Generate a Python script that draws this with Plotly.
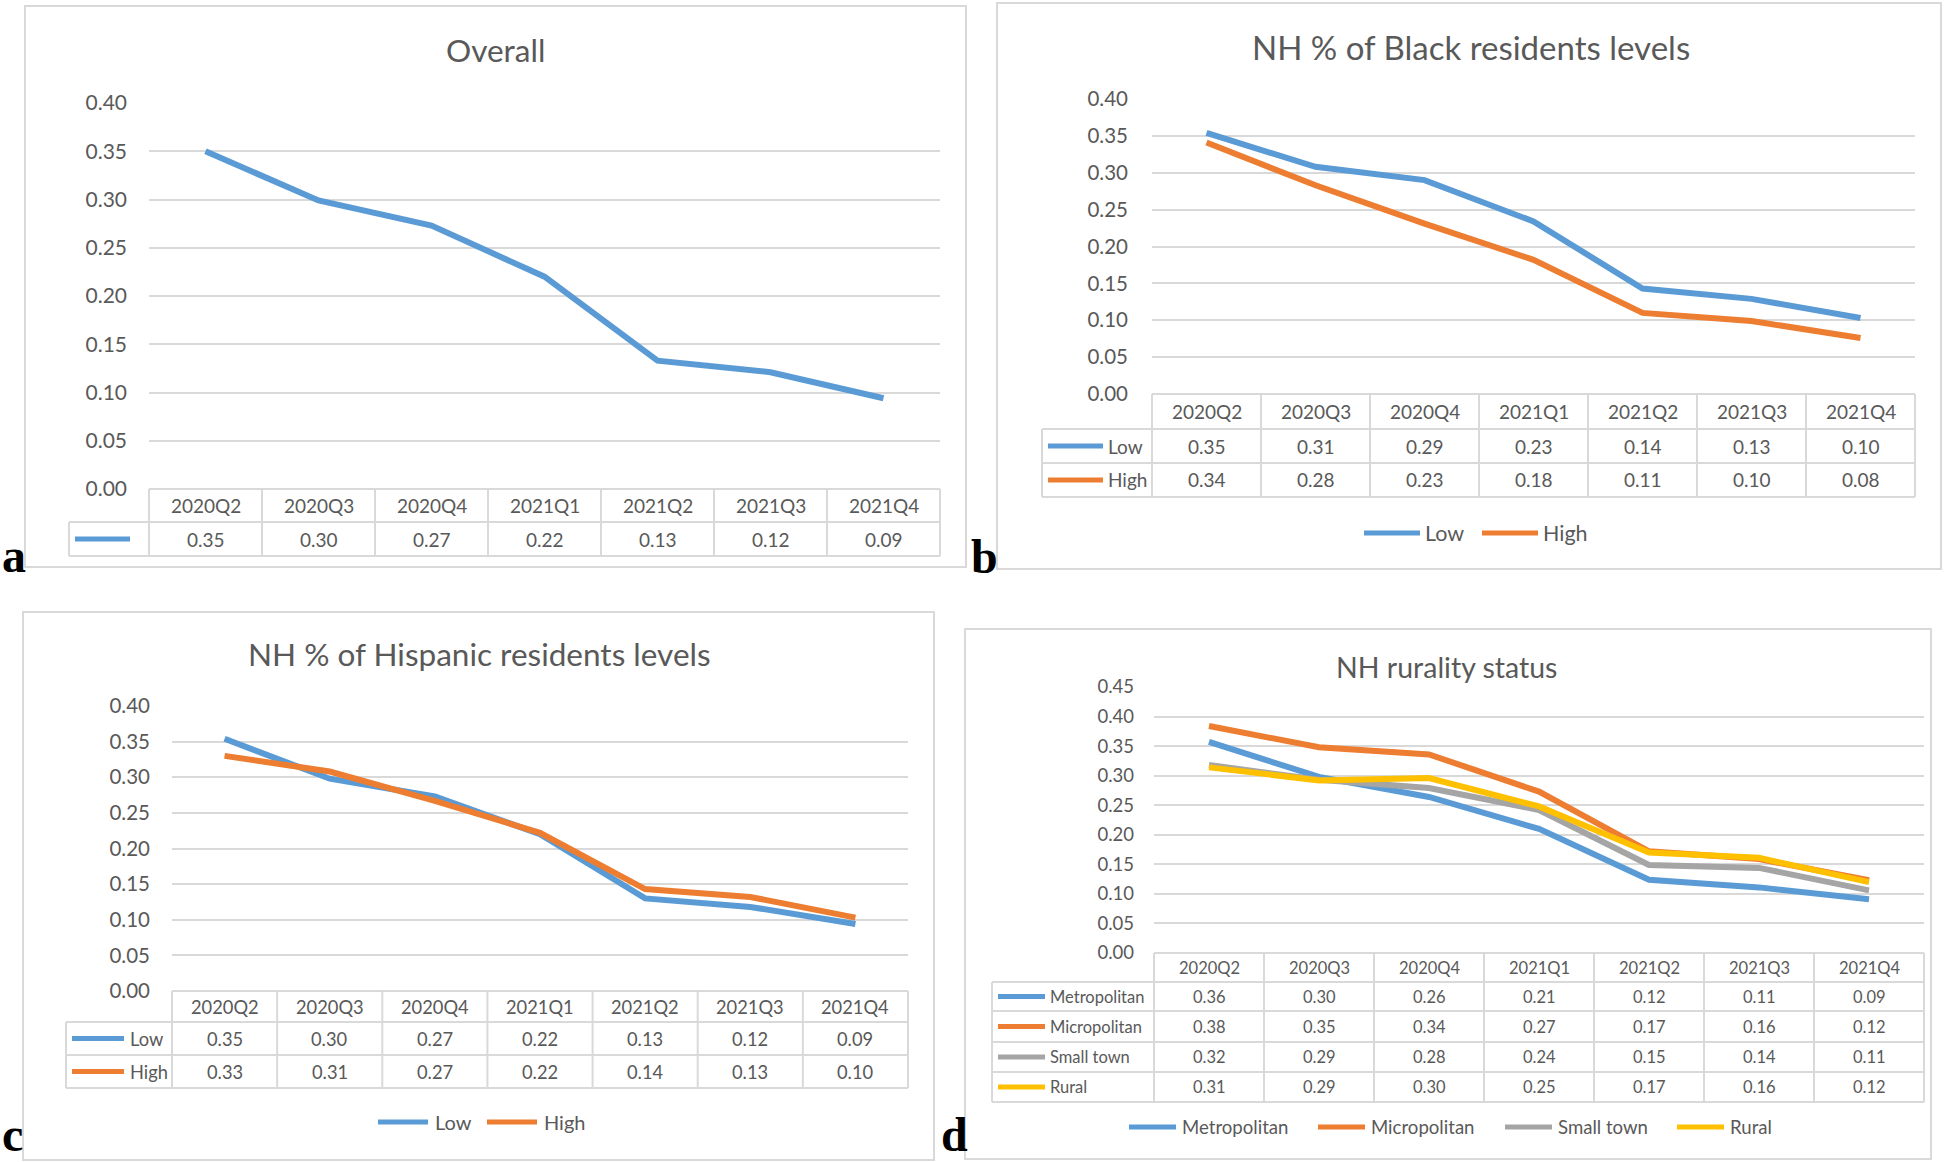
import plotly.graph_objects as go

# ---------------- data ----------------
quarters = ["2020Q2", "2020Q3", "2020Q4", "2021Q1", "2021Q2", "2021Q3", "2021Q4"]

overall = [0.350, 0.299, 0.273, 0.220, 0.133, 0.121, 0.094]

black_low = [0.354, 0.308, 0.290, 0.234, 0.143, 0.129, 0.103]
black_high = [0.341, 0.283, 0.231, 0.182, 0.110, 0.099, 0.076]

hisp_low = [0.354, 0.298, 0.273, 0.220, 0.130, 0.118, 0.094]
hisp_high = [0.330, 0.308, 0.267, 0.222, 0.143, 0.132, 0.103]

metropolitan = [0.357, 0.298, 0.264, 0.210, 0.124, 0.111, 0.091]
micropolitan = [0.384, 0.348, 0.336, 0.273, 0.172, 0.159, 0.123]
small_town = [0.318, 0.293, 0.279, 0.242, 0.149, 0.144, 0.106]
rural = [0.314, 0.292, 0.296, 0.248, 0.170, 0.161, 0.120]

titles = ["Overall", "NH % of Black residents levels",
          "NH % of Hispanic residents levels", "NH rurality status"]
panel_letters = ["a", "b", "c", "d"]

# ---------------- style ----------------
W, H = 1945, 1162
BLUE, ORANGE, GRAY, GOLD = "#5B9BD5", "#ED7D31", "#A5A5A5", "#FFC000"
TXT = "#595959"
GRID = "#D9D9D9"
FONT = "Lato"


def X(px):
    return px / W


def Y(py):
    return 1 - py / H


panels = [
    dict(series=[("", overall, BLUE)], ymax=0.40,
         box=(25, 6, 966, 567), plot=(149, 940), y0=489, ytop=103,
         rows=[522, 556], legcol=69, sample=(75, 130), textx=None,
         title=(495, 50, 31.5), tick=(21, 21), table=19,
         legend=None, letter=(0, 555)),
    dict(series=[("Low", black_low, BLUE), ("High", black_high, ORANGE)], ymax=0.40,
         box=(997, 3, 1941, 569), plot=(1152, 1915), y0=394, ytop=99,
         rows=[429, 463, 497], legcol=1042, sample=(1048, 1103), textx=1106,
         title=(1471, 47, 33), tick=(20.5, 23), table=19,
         legend=dict(y=533, xs=[1364, 1482], length=56, gap=3, size=21.5),
         letter=(969, 556)),
    dict(series=[("Low", hisp_low, BLUE), ("High", hisp_high, ORANGE)], ymax=0.40,
         box=(23, 612, 934, 1160), plot=(172, 908), y0=991, ytop=706,
         rows=[1022, 1055, 1088], legcol=66, sample=(72, 124), textx=128,
         title=(479, 654, 31.5), tick=(20.5, 21), table=18.3,
         legend=dict(y=1122, xs=[378, 487], length=50, gap=5, size=20),
         letter=(0, 1134)),
    dict(series=[("Metropolitan", metropolitan, BLUE), ("Micropolitan", micropolitan, ORANGE),
                 ("Small town", small_town, GRAY), ("Rural", rural, GOLD)], ymax=0.45,
         box=(965, 629, 1931, 1159), plot=(1154, 1924), y0=953, ytop=687,
         rows=[982, 1011, 1042, 1072, 1102], legcol=992, sample=(998, 1045), textx=1048,
         title=(1446, 667, 28.5), tick=(18.5, 19), table=16.5,
         legend=dict(y=1127, xs=[1129, 1318, 1505, 1677], length=47, gap=4, size=18.6),
         letter=(939, 1134)),
]

fig = go.Figure()
shapes = []
annotations = []
layout_axes = {}

for i, p in enumerate(panels, start=1):
    xa = "x" if i == 1 else f"x{i}"
    ya = "y" if i == 1 else f"y{i}"
    xkey = "xaxis" if i == 1 else f"xaxis{i}"
    ykey = "yaxis" if i == 1 else f"yaxis{i}"
    left, right = p["plot"]
    y0, ytop = p["y0"], p["ytop"]

    # panel border
    bx0, by0, bx1, by1 = p["box"]
    shapes.append(dict(type="rect", xref="paper", yref="paper",
                       x0=X(bx0), x1=X(bx1), y0=Y(by1), y1=Y(by0),
                       line=dict(color=GRID, width=2), fillcolor="rgba(0,0,0,0)",
                       layer="below"))

    for name, vals, color in p["series"]:
        fig.add_trace(go.Scatter(x=quarters, y=vals, mode="lines", name=name,
                                 line=dict(color=color, width=6),
                                 xaxis=xa, yaxis=ya, showlegend=False,
                                 hoverinfo="x+y"))

    layout_axes[xkey] = dict(domain=[X(left), X(right)], range=[-0.5, 6.5],
                             type="category", categoryorder="array", categoryarray=quarters,
                             showgrid=False, showticklabels=False, zeroline=False,
                             showline=False, ticks="", anchor=ya, fixedrange=True,
                             automargin=False)
    layout_axes[ykey] = dict(domain=[Y(y0), Y(ytop)], range=[0, p["ymax"]],
                             tick0=0, dtick=0.05, tickformat=".2f",
                             showgrid=True, gridcolor=GRID, gridwidth=2,
                             zeroline=False, showline=False, ticks="",
                             tickfont=dict(family=FONT, size=p["tick"][0], color=TXT),
                             ticklabelstandoff=p["tick"][1], anchor=xa, fixedrange=True,
                             automargin=False)

    # title
    tx, ty, ts = p["title"]
    annotations.append(dict(text=titles[i - 1], x=X(tx), y=Y(ty), xref="paper", yref="paper",
                            xanchor="center", yanchor="middle", showarrow=False,
                            font=dict(family=FONT, size=ts, color=TXT)))

    # ---- data table ----
    rows = p["rows"]
    bottom = rows[-1]
    shapes.append(dict(type="line", xref=f"{xa} domain", yref="paper",
                       x0=0, x1=1, y0=Y(y0), y1=Y(y0), line=dict(color=GRID, width=2)))
    for rb in rows:
        shapes.append(dict(type="line", xref="paper", yref="paper",
                           x0=X(p["legcol"]), x1=X(right), y0=Y(rb), y1=Y(rb),
                           line=dict(color=GRID, width=2)))
    ncat = len(quarters)
    for k in range(ncat + 1):
        shapes.append(dict(type="line", xref=f"{xa} domain", yref="paper",
                           x0=k / ncat, x1=k / ncat, y0=Y(y0), y1=Y(bottom),
                           line=dict(color=GRID, width=2)))
    shapes.append(dict(type="line", xref="paper", yref="paper",
                       x0=X(p["legcol"]), x1=X(p["legcol"]), y0=Y(rows[0]), y1=Y(bottom),
                       line=dict(color=GRID, width=2)))

    hy = (y0 + rows[0]) / 2
    for q in quarters:
        annotations.append(dict(text=q, x=q, y=Y(hy), xref=xa, yref="paper",
                                xanchor="center", yanchor="middle", showarrow=False,
                                font=dict(family=FONT, size=p["table"], color=TXT)))
    for j, (name, vals, color) in enumerate(p["series"]):
        yc = (rows[j] + rows[j + 1]) / 2
        for q, v in zip(quarters, vals):
            annotations.append(dict(text=f"{v:.2f}", x=q, y=Y(yc), xref=xa, yref="paper",
                                    xanchor="center", yanchor="middle", showarrow=False,
                                    font=dict(family=FONT, size=p["table"], color=TXT)))
        sx0, sx1 = p["sample"]
        shapes.append(dict(type="line", xref="paper", yref="paper",
                           x0=X(sx0), x1=X(sx1), y0=Y(yc), y1=Y(yc),
                           line=dict(color=color, width=5)))
        if name and p["textx"] is not None:
            annotations.append(dict(text=name, x=X(p["textx"]), y=Y(yc), xref="paper", yref="paper",
                                    xanchor="left", yanchor="middle", showarrow=False,
                                    font=dict(family=FONT, size=p["table"], color=TXT)))

    # ---- bottom legend ----
    lg = p["legend"]
    if lg:
        for sx, (name, vals, color) in zip(lg["xs"], p["series"]):
            shapes.append(dict(type="line", xref="paper", yref="paper",
                               x0=X(sx), x1=X(sx + lg["length"]), y0=Y(lg["y"]), y1=Y(lg["y"]),
                               line=dict(color=color, width=5)))
            annotations.append(dict(text=name, x=X(sx + lg["length"] + lg["gap"]), y=Y(lg["y"]),
                                    xref="paper", yref="paper", xanchor="left", yanchor="middle",
                                    showarrow=False,
                                    font=dict(family=FONT, size=lg["size"], color=TXT)))

    # panel letter
    lx, ly = p["letter"]
    annotations.append(dict(text=panel_letters[i - 1], x=X(lx), y=Y(ly), xref="paper", yref="paper",
                            xanchor="left", yanchor="middle", showarrow=False,
                            font=dict(family="Liberation Serif", size=48, color="black",
                                      weight="bold")))

fig.update_layout(width=W, height=H, margin=dict(l=0, r=0, t=0, b=0, pad=0, autoexpand=False),
                  paper_bgcolor="white", plot_bgcolor="white",
                  showlegend=False, shapes=shapes, annotations=annotations,
                  **layout_axes)

fig.write_html("out.html", config={"displayModeBar": False},
               post_script="document.body.style.margin='0';document.body.style.overflow='hidden';")
